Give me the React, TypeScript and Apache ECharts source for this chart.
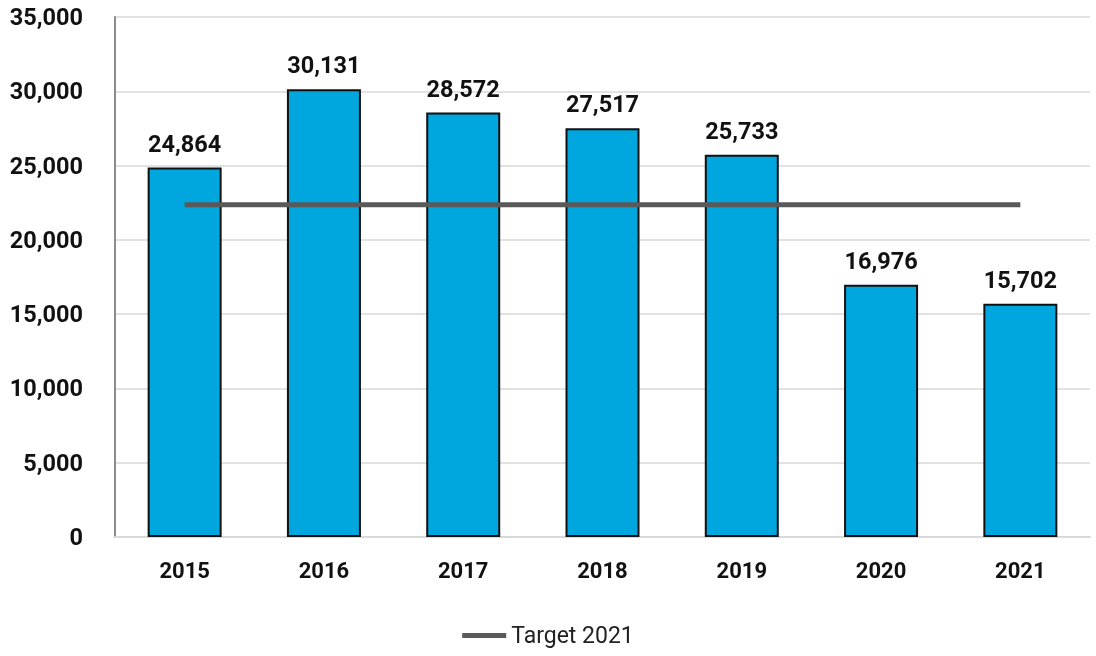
import React, { useEffect, useRef } from "react";
import * as echarts from "echarts";

const years = ["2015", "2016", "2017", "2018", "2019", "2020", "2021"];
const values = [24864, 30131, 28572, 27517, 25733, 16976, 15702];
const targetValue = 22370;
const targetSeries = years.map(() => targetValue);

export default function App() {
  const ref = useRef<HTMLDivElement>(null);
  useEffect(() => {
    const chart = echarts.init(ref.current!, null, { renderer: "svg" });
    chart.setOption({
      animation: false,
      textStyle: { fontFamily: "Roboto" },
      grid: { left: 115, right: 6, top: 17, bottom: 119, containLabel: false },
      legend: {
        bottom: 4,
        left: "center",
        data: [{ name: "Target 2021", icon: "rect" }],
        itemWidth: 44,
        itemHeight: 5,
        itemGap: 10,
        textStyle: { fontSize: 23, color: "#222", fontFamily: "Roboto" },
      },
      xAxis: {
        type: "category",
        data: years,
        axisLine: { show: true, lineStyle: { color: "#d9d9d9", width: 2 } },
        axisTick: { show: false },
        axisLabel: { fontSize: 22, fontWeight: "bold", color: "#111", margin: 22 },
      },
      yAxis: {
        type: "value",
        min: 0,
        max: 35000,
        interval: 5000,
        axisLine: { show: true, lineStyle: { color: "#8c8c8c", width: 2 } },
        splitLine: { lineStyle: { color: "#d9d9d9", width: 1.5 } },
        axisLabel: {
          fontSize: 23.5,
          fontWeight: "bold",
          color: "#111",
          margin: 32,
          formatter: (v: number) => v.toLocaleString("en-US"),
        },
      },
      series: [
        {
          type: "bar",
          data: values,
          barWidth: 74,
          itemStyle: { color: "#00a6de", borderColor: "#111", borderWidth: 2 },
          label: {
            show: true,
            position: "top",
            distance: 12,
            fontSize: 23.5,
            fontWeight: "bold",
            color: "#111",
            formatter: (p: any) => Number(p.value).toLocaleString("en-US"),
          },
        },
        {
          name: "Target 2021",
          type: "line",
          data: targetSeries,
          symbol: "none",
          lineStyle: { color: "#595959", width: 5 },
          itemStyle: { color: "#595959" },
        },
      ],
    });
    return () => chart.dispose();
  }, []);
  return (
    <div
      ref={ref}
      style={{ position: "fixed", left: 0, top: 0, width: 1096, height: 656 }}
    />
  );
}
